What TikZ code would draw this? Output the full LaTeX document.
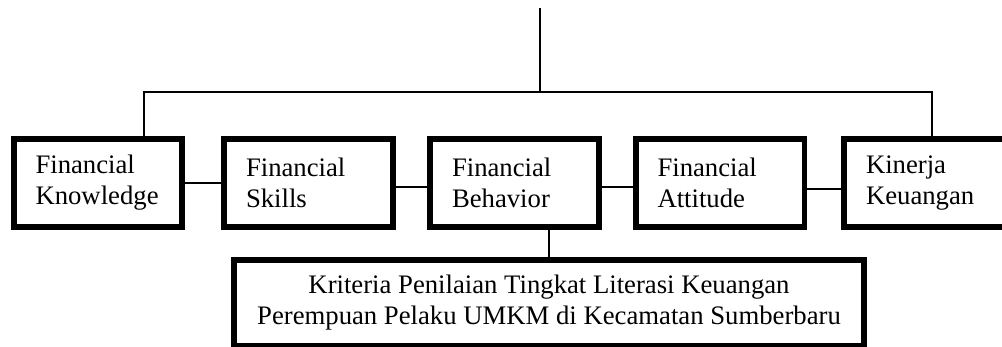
\documentclass[tikz,border=0pt]{standalone}
\usepackage{fontspec}
\setmainfont{Liberation Serif}
\usepackage{tikz}

\tikzset{
  dimbox/.style={draw=black, line width=3.4pt, rectangle, minimum width=3.38cm,
    minimum height=1.75cm, text width=2.5cm, inner xsep=0.44cm, align=left,
    font=\fontsize{15.2}{17.6}\selectfont},
  critbox/.style={draw=black, line width=3.4pt, rectangle, minimum width=12.6cm,
    minimum height=1.72cm, align=center, font=\fontsize{15.2}{17.6}\selectfont},
  link/.style={draw=black, line width=0.75pt}
}

\begin{document}
\begin{tikzpicture}[x=0.02cm, y=-0.02cm]

 % Page frame of the reference
 \useasboundingbox (0,0) rectangle (1002,347);
 \clip (0,0) rectangle (1002,347);

 % Five dimensions of literacy
 \node [dimbox] (know) at (98,183) {Financial\\Knowledge};
 \node [dimbox] (skill) at (308.5,183) {Financial\\Skills};
 \node [dimbox] (behav) at (514.5,183) {Financial\\Behavior};
 \node [dimbox] (attit) at (720,183) {Financial\\Attitude};
 \node [dimbox] (kiner) at (928.5,183) {Kinerja\\Keuangan};

 % Assessment criteria
 \node [critbox] (crit) at (549,303) {Kriteria Penilaian Tingkat Literasi Keuangan\\Perempuan Pelaku UMKM di Kecamatan Sumberbaru};

 % Tree on top
 \coordinate (root) at (540,8);
 \coordinate (bar) at (540,92);
 \coordinate (lft) at (144,92);
 \coordinate (rgt) at (932,92);
 \draw [link] (root) -- (bar);
 \draw [link] (know.north -| lft) -- (lft) -- (rgt) -- (kiner.north -| rgt);

 % Lines between the boxes
 \draw [link] (know.east) -- (skill.west);
 \draw [link] ([yshift=-0.08cm]skill.east) -- ([yshift=-0.08cm]behav.west);
 \draw [link] ([yshift=-0.08cm]behav.east) -- ([yshift=-0.08cm]attit.west);
 \draw [link] ([yshift=-0.12cm]attit.east) -- ([yshift=-0.12cm]kiner.west);

 % Line down to the criteria
 \draw [link] (crit.north |- behav.south) -- (crit.north);

\end{tikzpicture}
\end{document}
